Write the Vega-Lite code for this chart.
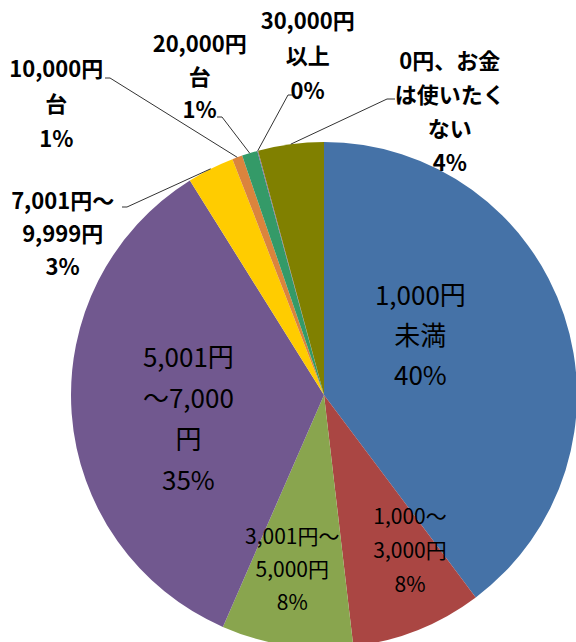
{
  "$schema": "https://vega.github.io/schema/vega-lite/v6.json",
  "width": 506,
  "height": 506,
  "autosize": {"type": "none"},
  "padding": {"left": 71, "top": 142, "right": 0, "bottom": 0},
  "background": "white",
  "config": {"view": {"stroke": null}},
  "data": {
    "values": [
      {"cat": "1,000円未満", "value": 39.8, "order": 1, "label": ["1,000円", "未満", "40%"]},
      {"cat": "1,000～3,000円", "value": 8.4, "order": 2, "label": ["1,000～", "3,000円", "8%"]},
      {"cat": "3,001円～5,000円", "value": 8.4, "order": 3, "label": ["3,001円～", "5,000円", "8%"]},
      {"cat": "5,001円～7,000円", "value": 34.6, "order": 4, "label": ["5,001円", "～7,000", "円", "35%"]},
      {"cat": "7,001円～9,999円", "value": 3.0, "order": 5, "label": ["7,001円～", "9,999円", "3%"]},
      {"cat": "10,000円台", "value": 0.65, "order": 6, "label": ["10,000円", "台", "1%"]},
      {"cat": "20,000円台", "value": 1.0, "order": 7, "label": ["20,000円", "台", "1%"]},
      {"cat": "30,000円以上", "value": 0.05, "order": 8, "label": ["30,000円", "以上", "0%"]},
      {"cat": "0円、お金は使いたくない", "value": 4.2, "order": 9, "label": ["0円、お金", "は使いたく", "ない", "4%"]}
    ]
  },
  "transform": [
    {"stack": "value", "groupby": [], "sort": [{"field": "order", "order": "ascending"}], "as": ["s0", "s1"]},
    {"joinaggregate": [{"op": "sum", "field": "value", "as": "total"}]},
    {"calculate": "(datum.s0 + datum.s1) / 2", "as": "mid"},
    {"calculate": "PI * (datum.s0 + datum.s1) / datum.total", "as": "ang"}
  ],
  "layer": [
    {
      "mark": {"type": "arc", "strokeWidth": 0},
      "encoding": {
        "theta": {"field": "value", "type": "quantitative", "stack": true},
        "order": {"field": "order", "type": "quantitative", "sort": "ascending"},
        "color": {
          "field": "cat",
          "type": "nominal",
          "legend": null,
          "scale": {
            "domain": ["1,000円未満", "1,000～3,000円", "3,001円～5,000円", "5,001円～7,000円", "7,001円～9,999円", "10,000円台", "20,000円台", "30,000円以上", "0円、お金は使いたくない"],
            "range": ["#4572A7", "#AA4643", "#89A54E", "#71588F", "#FFCC00", "#DB843D", "#349A68", "#8064A2", "#808000"]
          }
        }
      }
    },
    {
      "transform": [
        {"filter": "datum.order >= 5"},
        {"calculate": "datum.order==5 ? -197 : datum.order==6 ? -214 : datum.order==7 ? -102 : datum.order==8 ? -36 : 63", "as": "kx"},
        {"calculate": "datum.order==5 ? -188 : datum.order==6 ? -317 : datum.order==7 ? -278 : datum.order==8 ? -300 : -296", "as": "ky"},
        {"calculate": "datum.kx + (datum.order==9 ? 8 : datum.order==8 ? 6 : -5)", "as": "ex"},
        {"calculate": "[253 * sin(datum.ang), datum.kx, datum.ex]", "as": "px"},
        {"calculate": "[-253 * cos(datum.ang), datum.ky, datum.ky]", "as": "py"},
        {"calculate": "[0, 1, 2]", "as": "pi"},
        {"flatten": ["px", "py", "pi"]}
      ],
      "mark": {"type": "line", "color": "#333333", "strokeWidth": 1},
      "encoding": {
        "x": {"field": "px", "type": "quantitative", "axis": null, "scale": {"domain": [-253, 253], "nice": false, "zero": false}},
        "y": {"field": "py", "type": "quantitative", "axis": null, "scale": {"domain": [-253, 253], "nice": false, "zero": false, "reverse": true}},
        "detail": {"field": "cat", "type": "nominal"},
        "order": {"field": "pi", "type": "quantitative"}
      }
    },
    {
      "transform": [{"filter": "datum.order == 1"}],
      "mark": {"type": "text", "radius": 110, "dx": -8, "dy": -63, "fontSize": 26, "lineHeight": 40, "font": "Noto Sans CJK JP", "color": "#000000", "align": "center", "baseline": "middle"},
      "encoding": {"theta": {"field": "mid", "type": "quantitative"}, "text": {"field": "label"}}
    },
    {
      "transform": [{"filter": "datum.order == 2"}],
      "mark": {"type": "text", "radius": 170, "dx": 23, "dy": -35, "fontSize": 21, "lineHeight": 34, "font": "Noto Sans CJK JP", "color": "#000000", "align": "center", "baseline": "middle"},
      "encoding": {"theta": {"field": "mid", "type": "quantitative"}, "text": {"field": "label"}}
    },
    {
      "transform": [{"filter": "datum.order == 3"}],
      "mark": {"type": "text", "radius": 175, "dx": -6, "dy": -30, "fontSize": 21, "lineHeight": 33, "font": "Noto Sans CJK JP", "color": "#000000", "align": "center", "baseline": "middle"},
      "encoding": {"theta": {"field": "mid", "type": "quantitative"}, "text": {"field": "label"}}
    },
    {
      "transform": [{"filter": "datum.order == 4"}],
      "mark": {"type": "text", "radius": 140, "dx": 4, "dy": -46, "fontSize": 26, "lineHeight": 41, "font": "Noto Sans CJK JP", "color": "#000000", "align": "center", "baseline": "middle"},
      "encoding": {"theta": {"field": "mid", "type": "quantitative"}, "text": {"field": "label"}}
    },
    {
      "transform": [{"filter": "datum.order == 5"}],
      "mark": {"type": "text", "radius": 253, "dx": -148, "dy": 33, "fontSize": 22, "fontWeight": "bold", "lineHeight": 33, "font": "Noto Sans CJK JP", "color": "#000000", "align": "center", "baseline": "middle"},
      "encoding": {"theta": {"field": "mid", "type": "quantitative"}, "text": {"field": "label"}}
    },
    {
      "transform": [{"filter": "datum.order == 6"}],
      "mark": {"type": "text", "radius": 253, "dx": -181, "dy": -87, "fontSize": 22, "fontWeight": "bold", "lineHeight": 35, "font": "Noto Sans CJK JP", "color": "#000000", "align": "center", "baseline": "middle"},
      "encoding": {"theta": {"field": "mid", "type": "quantitative"}, "text": {"field": "label"}}
    },
    {
      "transform": [{"filter": "datum.order == 7"}],
      "mark": {"type": "text", "radius": 253, "dx": -50, "dy": -108, "fontSize": 22, "fontWeight": "bold", "lineHeight": 33, "font": "Noto Sans CJK JP", "color": "#000000", "align": "center", "baseline": "middle"},
      "encoding": {"theta": {"field": "mid", "type": "quantitative"}, "text": {"field": "label"}}
    },
    {
      "transform": [{"filter": "datum.order == 8"}],
      "mark": {"type": "text", "radius": 253, "dx": 50, "dy": -129, "fontSize": 22, "fontWeight": "bold", "lineHeight": 35, "font": "Noto Sans CJK JP", "color": "#000000", "align": "center", "baseline": "middle"},
      "encoding": {"theta": {"field": "mid", "type": "quantitative"}, "text": {"field": "label"}}
    },
    {
      "transform": [{"filter": "datum.order == 9"}],
      "mark": {"type": "text", "radius": 253, "dx": 159, "dy": -82, "fontSize": 22, "fontWeight": "bold", "lineHeight": 34, "font": "Noto Sans CJK JP", "color": "#000000", "align": "center", "baseline": "middle"},
      "encoding": {"theta": {"field": "mid", "type": "quantitative"}, "text": {"field": "label"}}
    }
  ]
}
